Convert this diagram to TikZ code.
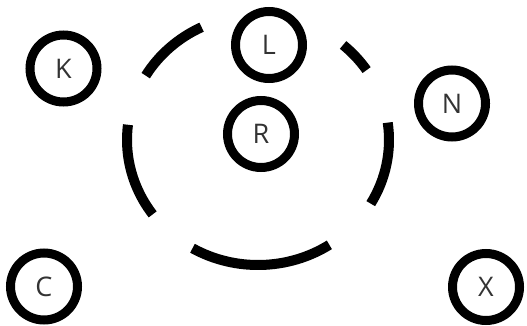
\documentclass[tikz,border=0pt]{standalone}
\usepackage{fontspec}
\setmainfont{Open Sans}
\usetikzlibrary{positioning}

\begin{document}
\begin{tikzpicture}[x=1pt,y=1pt,
    main node/.style={circle,draw,line width=9pt,minimum size=67pt,inner sep=0pt,
        font=\fontsize{27}{27}\selectfont,text=black!80},
    ring/.style={line width=10pt,line cap=butt}]
    \useasboundingbox (0,0) rectangle (527,325);

    \coordinate (O) at (258,185);

    \node[main node] (K) at (63.5,256.5) {K};
    \node[main node] (L) at (269,280) {L};
    \node[main node] (R) at (261,191) {R};
    \node[main node] (N) at (452,221.5) {N};
    \node[main node] (C) at (44,38.5) {C};
    \node[main node] (X) at (486,38) {X};

    \foreach \a/\b in {-30.6/8, 34/49.5, 115.5/149, 173/216.5, 240/303}
        \draw[ring] (O) ++(\a:131 and 125)
            arc[start angle=\a, end angle=\b, x radius=131, y radius=125];
\end{tikzpicture}
\end{document}
